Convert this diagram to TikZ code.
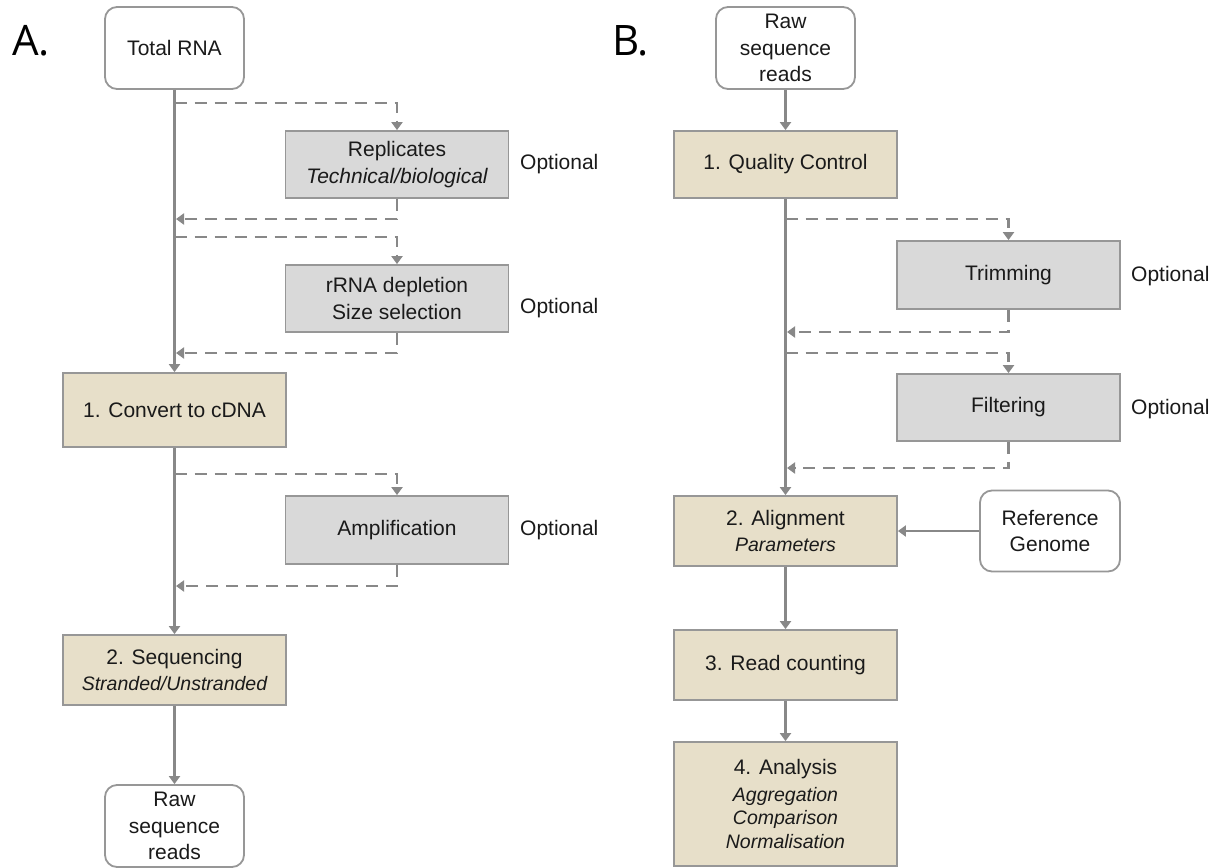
\documentclass[tikz,border=0pt]{standalone}
\usepackage{fontspec}
\setmainfont{Liberation Sans}
\newfontfamily\labfont{Open Sans}
\usetikzlibrary{arrows.meta}
\definecolor{tanfill}{HTML}{E7DFC9}
\definecolor{grayfill}{HTML}{D9D9D9}
\definecolor{edgecol}{HTML}{979797}
\definecolor{linecol}{HTML}{888888}
\definecolor{txtcol}{HTML}{1A1A1A}
\newcommand\mysub[2][19.5]{{\fontsize{#1}{25}\selectfont\itshape #2}}
\begin{document}
\begin{tikzpicture}[x=1pt,y=-1pt,
  base/.style={draw=edgecol, line width=1.8pt, align=center, inner sep=0pt, text=txtcol,
    font=\fontsize{21}{26.5}\selectfont},
  stepbox/.style={base, fill=tanfill, minimum width=223pt},
  optbox/.style={base, fill=grayfill, minimum width=223pt},
  endbox/.style={base, fill=white, rounded corners=12pt, minimum width=139pt, minimum height=82pt},
  opt/.style={anchor=west, inner sep=0pt, text=txtcol, font=\fontsize{21}{26}\selectfont},
  panel/.style={anchor=base west, inner sep=0pt, text=black, font=\labfont\fontsize{42}{42}\selectfont},
  flow/.style={draw=linecol, line width=2.8pt, -{Triangle[length=8pt,width=11pt]}},
  optflow/.style={draw=linecol, line width=2.8pt, dash pattern=on 12pt off 8pt, -{Triangle[length=8pt,width=11pt]}}
]
\useasboundingbox (0,0) rectangle (1219,868);

% ---------- Panel A ----------
\node[panel] (labA) at (12,55) {A.};
\node[endbox] (totA) at (174.5,48) {Total RNA};
\node[optbox, minimum height=67pt] (rep) at (397,164.5) {Replicates\\\mysub[21]{Technical/biological}};
\node[optbox, minimum height=67pt] (rrna) at (397,298.5) {rRNA depletion\\Size selection};
\node[stepbox, minimum height=74pt] (conv) at (174.5,410) {1. Convert to cDNA};
\node[optbox, minimum height=68pt] (amp) at (397,530) {Amplification};
\node[stepbox, minimum height=70pt] (seq) at (174.5,670) {2. Sequencing\\\mysub{Stranded/Unstranded}};
\node[endbox] (rawA) at (174.5,826) {Raw\\sequence\\reads};
\node[opt] (oA1) at (520,164) {Optional};
\node[opt] (oA2) at (520,308) {Optional};
\node[opt] (oA3) at (520,530) {Optional};

\draw[flow] (totA.south) -- (conv.north);
\draw[flow] (conv.south) -- (seq.north);
\draw[flow] (seq.south) -- (rawA.north);

\coordinate (d1) at (174.5,103);
\coordinate (r1) at (176,219);
\coordinate (d2) at (174.5,237);
\coordinate (r2) at (176,353);
\coordinate (d3) at (174.5,474);
\coordinate (r3) at (176,586);
\draw[optflow] (d1) -| (rep.north);
\draw[optflow] (rep.south) |- (r1);
\draw[optflow] (d2) -| (rrna.north);
\draw[optflow] (rrna.south) |- (r2);
\draw[optflow] (d3) -| (amp.north);
\draw[optflow] (amp.south) |- (r3);

% ---------- Panel B ----------
\node[panel] (labB) at (612,55) {B.};
\node[endbox] (rawB) at (785.5,48) {Raw\\sequence\\reads};
\node[stepbox, minimum height=67pt] (qc) at (785.5,164.5) {1. Quality Control};
\node[optbox, minimum height=68pt] (trim) at (1008.5,275) {Trimming};
\node[optbox, minimum height=67pt] (filt) at (1008.5,407.5) {Filtering};
\node[stepbox, minimum height=70pt] (align) at (785.5,531) {2. Alignment\\\mysub{Parameters}};
\node[endbox, minimum width=140pt, minimum height=81pt] (ref) at (1050,531) {Reference\\Genome};
\node[stepbox, minimum height=70pt] (count) at (785.5,665) {3. Read counting};
\node[stepbox, minimum height=124pt] (anal) at (785.5,804) {4. Analysis\\\mysub{Aggregation}\\[-3pt]\mysub{Comparison}\\[-3pt]\mysub{Normalisation}};
\node[opt] (oB1) at (1131,276) {Optional};
\node[opt] (oB2) at (1131,409) {Optional};

\draw[flow] (rawB.south) -- (qc.north);
\draw[flow] (qc.south) -- (align.north);
\draw[flow] (align.south) -- (count.north);
\draw[flow] (count.south) -- (anal.north);
\draw[flow] (ref.west) -- (ref.west -| align.east);

\coordinate (d4) at (785.5,219);
\coordinate (r4) at (787,332);
\coordinate (d5) at (785.5,353);
\coordinate (r5) at (787,468);
\draw[optflow] (d4) -| (trim.north);
\draw[optflow] (trim.south) |- (r4);
\draw[optflow] (d5) -| (filt.north);
\draw[optflow] (filt.south) |- (r5);
\end{tikzpicture}
\end{document}
